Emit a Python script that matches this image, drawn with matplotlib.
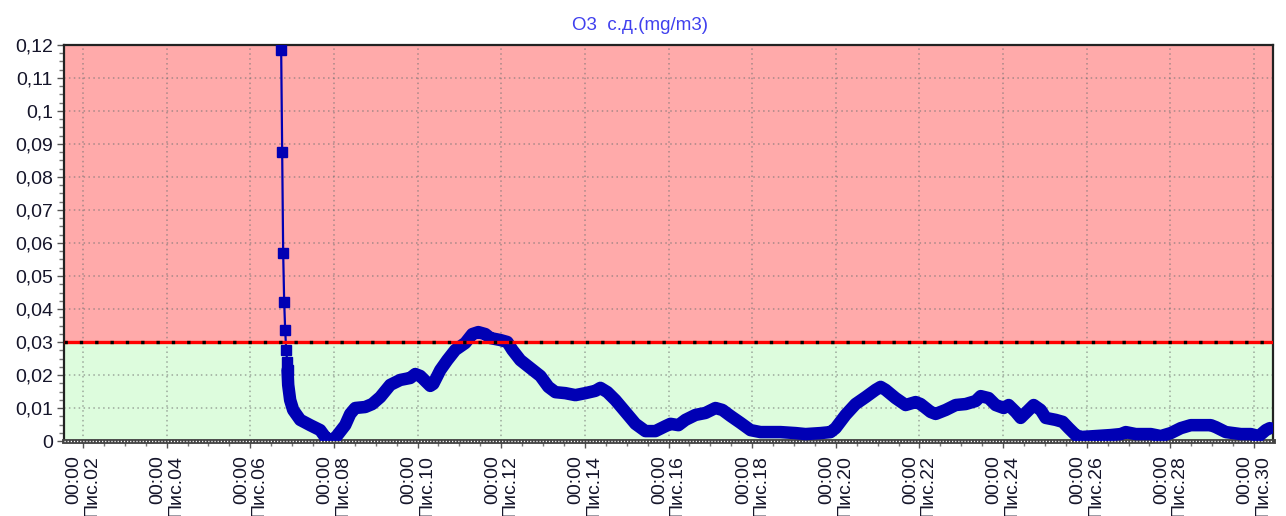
import numpy as np
import matplotlib.pyplot as plt
from matplotlib.ticker import MultipleLocator, FuncFormatter

plt.rcParams['font.family'] = ['Liberation Sans', 'DejaVu Sans']

# дні місяця (дробові) та концентрація О3, mg/m3
days = [6.738, 6.762, 6.786, 6.810, 6.834, 6.858, 6.882, 6.890, 6.906, 6.953,
        7.025, 7.193, 7.432, 7.671, 7.791, 7.911, 8.030, 8.269, 8.389, 8.509,
        8.748, 8.916, 9.107, 9.346, 9.585, 9.825, 9.945, 10.064, 10.303, 10.375,
        10.543, 10.710, 10.902, 11.141, 11.309, 11.452, 11.620, 11.739, 11.978, 12.146,
        12.266, 12.457, 12.696, 12.936, 13.127, 13.295, 13.534, 13.773, 14.012, 14.252,
        14.371, 14.539, 14.730, 14.970, 15.209, 15.448, 15.687, 15.927, 16.046, 16.238,
        16.405, 16.645, 16.884, 17.123, 17.291, 17.482, 17.721, 17.961, 18.200, 18.679,
        19.038, 19.277, 19.636, 19.875, 19.995, 20.234, 20.473, 20.713, 20.952, 21.072,
        21.191, 21.430, 21.670, 21.909, 22.029, 22.268, 22.388, 22.627, 22.866, 23.106,
        23.345, 23.465, 23.656, 23.823, 24.015, 24.134, 24.302, 24.421, 24.541, 24.732,
        24.900, 25.020, 25.259, 25.427, 25.570, 25.738, 25.857, 26.216, 26.575, 26.814,
        26.934, 27.173, 27.532, 27.772, 28.011, 28.250, 28.489, 28.729, 28.968, 29.088,
        29.327, 29.686, 29.925, 30.117, 30.284, 30.380]
o3 = [0.1185, 0.0876, 0.0570, 0.0421, 0.0336, 0.0276, 0.0239, 0.0215, 0.0170, 0.0124,
      0.0094, 0.0064, 0.0048, 0.0033, 0.0012, 0.0003, 0.0009, 0.0048, 0.0082, 0.0100,
      0.0103, 0.0112, 0.0133, 0.0170, 0.0185, 0.0191, 0.0203, 0.0197, 0.0167, 0.0173,
      0.0215, 0.0245, 0.0276, 0.0297, 0.0324, 0.0330, 0.0324, 0.0312, 0.0306, 0.0300,
      0.0276, 0.0245, 0.0221, 0.0197, 0.0164, 0.0148, 0.0145, 0.0139, 0.0145, 0.0152,
      0.0161, 0.0148, 0.0124, 0.0088, 0.0052, 0.0030, 0.0030, 0.0045, 0.0052, 0.0048,
      0.0064, 0.0079, 0.0085, 0.0100, 0.0094, 0.0076, 0.0055, 0.0033, 0.0027, 0.0027,
      0.0024, 0.0021, 0.0024, 0.0027, 0.0039, 0.0079, 0.0112, 0.0133, 0.0155, 0.0164,
      0.0155, 0.0130, 0.0109, 0.0118, 0.0112, 0.0088, 0.0082, 0.0094, 0.0109, 0.0112,
      0.0121, 0.0136, 0.0130, 0.0109, 0.0100, 0.0109, 0.0088, 0.0070, 0.0085, 0.0109,
      0.0094, 0.0070, 0.0064, 0.0058, 0.0039, 0.0018, 0.0012, 0.0015, 0.0018, 0.0021,
      0.0027, 0.0021, 0.0021, 0.0015, 0.0024, 0.0039, 0.0048, 0.0048, 0.0048, 0.0042,
      0.0027, 0.0021, 0.0021, 0.0015, 0.0033, 0.0039]

limit = 0.03
tick_days = list(range(2, 31, 2))
tick_labels = ['00:00\nПис.%02d' % d for d in tick_days]
title = 'O3  с.д.(mg/m3)'

days = np.array(days)
o3 = np.array(o3)

fig = plt.figure(figsize=(12.86, 5.16), dpi=100)
ax = fig.add_axes([64 / 1286, 1 - 441 / 516, 1209 / 1286, 396 / 516])

ax.set_xlim(1.545, 30.455)
ax.set_ylim(0, 0.12)

# зони: вище норми - червона, нижче - зелена
ax.axhspan(limit, 0.12, color='#FFAAAA', zorder=0)
ax.axhspan(0, limit, color='#DDFCDD', zorder=0)

ax.xaxis.set_major_locator(MultipleLocator(2))
ax.xaxis.set_minor_locator(MultipleLocator(0.5))
ax.yaxis.set_major_locator(MultipleLocator(0.01))
ax.yaxis.set_minor_locator(MultipleLocator(0.0025))
ax.set_xticks(tick_days)
ax.set_xticklabels(tick_labels, rotation=90, ha='center', va='top',
                   multialignment='right', linespacing=1.05)
ax.yaxis.set_major_formatter(FuncFormatter(lambda v, p: ('%g' % round(v, 3)).replace('.', ',')))

ax.grid(True, which='major', color='#707070', alpha=0.6, lw=1.1, linestyle=(0, (1, 2.2)), zorder=1)

ax.tick_params(axis='both', which='major', length=5, width=1, color='#555555',
               labelsize=14, labelcolor='#15152a')
ax.tick_params(axis='both', which='minor', length=3.5, width=1, color='#777777')
ax.tick_params(axis='y', pad=3)
ax.tick_params(axis='x', pad=5)

# рідкі точки на початку - тонка лінія з маркерами, далі - щільна смуга
idx = np.arange(len(days))
thin = idx <= 7
thick = idx >= 7
ax.plot(days, o3, color='#0000B4', lw=1.6, zorder=3)
ax.plot(days[thin], o3[thin], ls='none', marker='s', ms=7.5, color='#0000B4', zorder=3)
ax.plot(days[thick], o3[thick], color='#0000B4', lw=9, solid_joinstyle='round',
        solid_capstyle='round', zorder=3)

# лінія норми
ax.axhline(limit, color='#FF0000', lw=2.4, zorder=4)
ax.axhline(limit, color='black', lw=2.4, linestyle=(0, (1, 3.6)), zorder=5)

for side in ['left', 'right', 'top']:
    ax.spines[side].set_linewidth(1.6)
    ax.spines[side].set_color('#222222')
ax.spines['bottom'].set_linewidth(3.5)
ax.spines['bottom'].set_color('#444444')
ax.plot([0, 1], [0, 0], transform=ax.transAxes, color='white', lw=0.9,
        linestyle=(0, (1, 1.5)), clip_on=False, zorder=6)

fig.text(640 / 1286, 1 - 26 / 516, title, color='#4040EE', fontsize=13.5,
         ha='center', va='center')

fig.savefig('out.png', dpi=100)
